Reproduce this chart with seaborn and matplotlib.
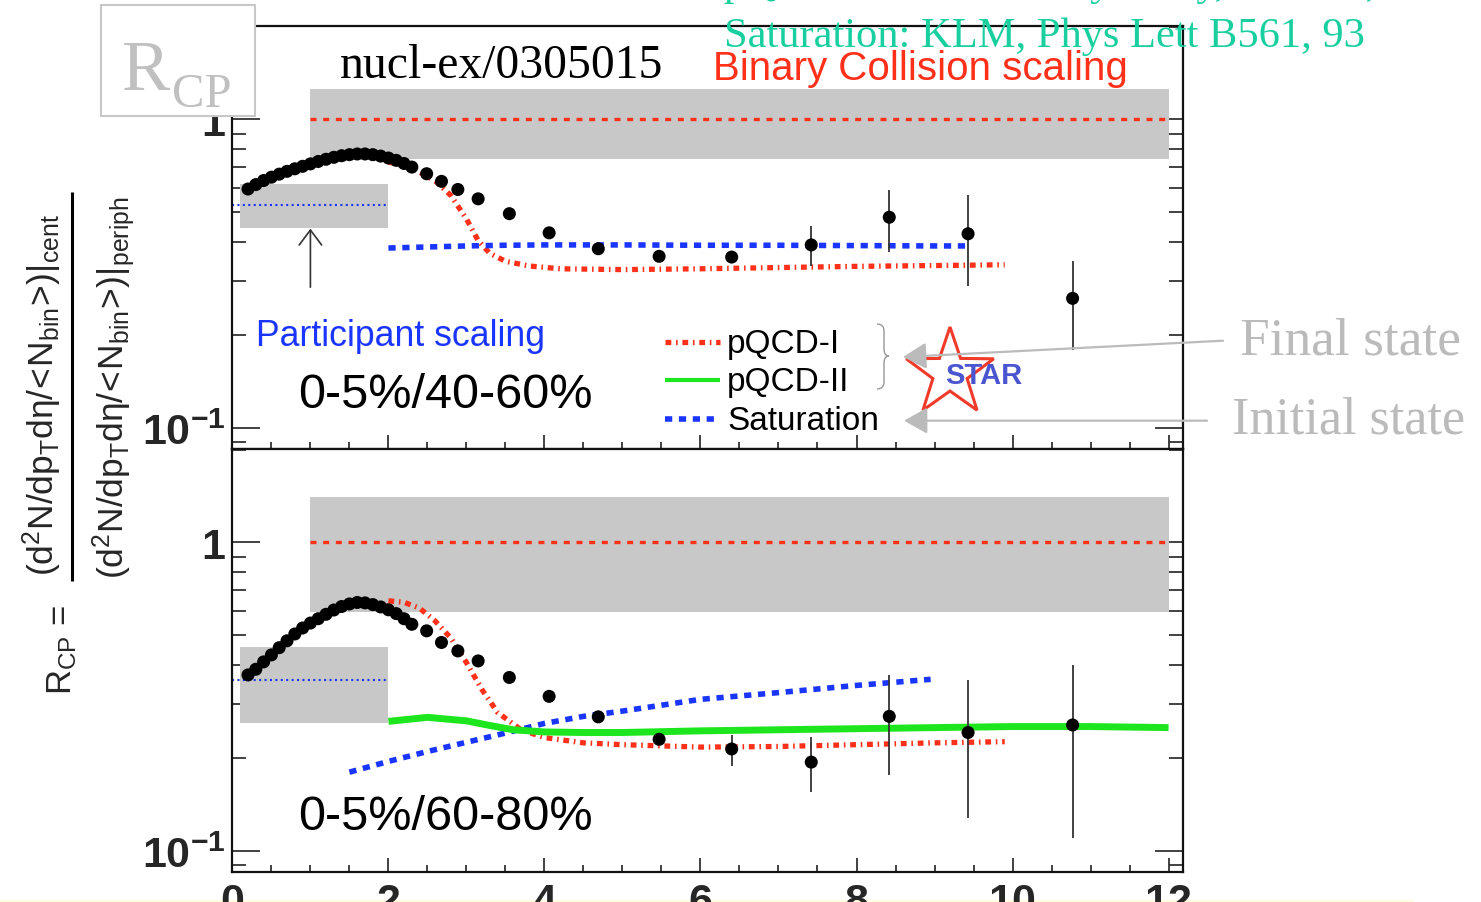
import numpy as np
import matplotlib
matplotlib.use("Agg")
import matplotlib.pyplot as plt
import seaborn as sns
from matplotlib.ticker import FixedLocator, FixedFormatter, LogLocator, NullFormatter, MultipleLocator
from matplotlib.patches import Rectangle, FancyArrowPatch, Polygon, PathPatch, ArrowStyle
from matplotlib.path import Path
from matplotlib.lines import Line2D

# ---------------- data ----------------
# charged hadron pT bins (GeV/c)
pt = [0.2, 0.3, 0.4, 0.5, 0.6, 0.7, 0.8, 0.9, 1.0, 1.1, 1.2, 1.3, 1.4, 1.5,
      1.6, 1.7, 1.8, 1.9, 2.0, 2.1, 2.2, 2.3,
      2.49, 2.68, 2.89, 3.15, 3.55, 4.06, 4.69, 5.47, 6.40, 7.42, 8.42, 9.43, 10.77]

# R_CP, 0-5% / 40-60%
rcp_40_60 = [0.595, 0.615, 0.634, 0.650, 0.665, 0.679, 0.692, 0.705, 0.718, 0.731,
             0.743, 0.754, 0.763, 0.769, 0.773, 0.773, 0.769, 0.761, 0.750, 0.737,
             0.720, 0.701,
             0.667, 0.630, 0.593, 0.553, 0.495, 0.429, 0.381, 0.360, 0.358, 0.392,
             0.482, 0.426, 0.263]
err_lo_40_60 = [0.0] * 22 + [0, 0, 0, 0, 0, 0, 0, 0.010, 0.010, 0.056, 0.110, 0.138, 0.084]
err_hi_40_60 = [0.0] * 22 + [0, 0, 0, 0, 0, 0, 0, 0.010, 0.010, 0.058, 0.109, 0.141, 0.085]

# R_CP, 0-5% / 60-80%
rcp_60_80 = [0.372, 0.388, 0.410, 0.432, 0.456, 0.480, 0.505, 0.528, 0.548, 0.566,
             0.585, 0.604, 0.620, 0.632, 0.639, 0.637, 0.629, 0.618, 0.605, 0.588,
             0.566, 0.543,
             0.517, 0.474, 0.445, 0.413, 0.365, 0.317, 0.272, 0.230, 0.214, 0.194,
             0.273, 0.242, 0.256]
err_lo_60_80 = [0.0] * 22 + [0, 0, 0, 0, 0, 0, 0, 0.010, 0.026, 0.039, 0.097, 0.114, 0.146]
err_hi_60_80 = [0.0] * 22 + [0, 0, 0, 0, 0, 0, 0, 0.010, 0.024, 0.040, 0.098, 0.116, 0.145]

# pQCD-I calculations
pqcd1_x_40_60 = [2.0, 2.2, 2.4, 2.6, 2.8, 3.0, 3.15, 3.3, 3.5, 3.8, 4.2, 5.0, 6.0, 7.0, 8.0, 9.0, 9.9]
pqcd1_y_40_60 = [0.727, 0.712, 0.675, 0.632, 0.567, 0.476, 0.405, 0.368, 0.347, 0.335,
                 0.328, 0.326, 0.328, 0.331, 0.334, 0.336, 0.338]
pqcd1_x_60_80 = [2.0, 2.2, 2.4, 2.6, 2.8, 3.0, 3.2, 3.4, 3.7, 4.0, 4.5, 5.0, 6.0, 7.0, 8.0, 9.0, 9.9]
pqcd1_y_60_80 = [0.647, 0.640, 0.612, 0.556, 0.490, 0.408, 0.333, 0.281, 0.247, 0.233,
                 0.224, 0.221, 0.217, 0.218, 0.221, 0.224, 0.226]

# pQCD-II calculation (60-80% only)
pqcd2_x_60_80 = [2.0, 2.5, 3.0, 3.3, 3.6, 4.0, 4.5, 5.0, 6.0, 7.0, 8.0, 9.0, 10.0, 11.0, 12.0]
pqcd2_y_60_80 = [0.263, 0.271, 0.264, 0.255, 0.247, 0.243, 0.242, 0.242, 0.245, 0.247,
                 0.249, 0.251, 0.253, 0.253, 0.251]

# Saturation model
sat_x_40_60 = [2.0, 2.5, 3.0, 3.5, 4.0, 5.0, 6.0, 7.0, 8.0, 9.0, 9.45]
sat_y_40_60 = [0.383, 0.386, 0.389, 0.391, 0.392, 0.392, 0.391, 0.391, 0.390, 0.389, 0.389]
sat_x_60_80 = [1.5, 2.0, 2.5, 3.0, 3.5, 4.0, 4.5, 5.0, 6.0, 7.0, 8.0, 8.95]
sat_y_60_80 = [0.180, 0.195, 0.210, 0.225, 0.241, 0.259, 0.273, 0.284, 0.310, 0.326, 0.344, 0.360]

# scaling expectations and their uncertainty bands
binary_level = 1.0
binary_band_40_60 = (0.746, 1.258)
binary_band_60_80 = (0.593, 1.406)
binary_range = (1.0, 12.0)
npart_level_40_60 = 0.530
npart_level_60_80 = 0.358
npart_band_40_60 = (0.444, 0.618)
npart_band_60_80 = (0.259, 0.4585)
npart_range = (0.1, 2.0)
npart_line_range = (0.0, 2.0)
arrow_x = 1.0
arrow_y = (0.280, 0.452)

x_ticks = [0, 2, 4, 6, 8, 10, 12]
x_tick_labels = ["0", "2", "4", "6", "8", "10", "12"]
y_ticks = [0.1, 1.0]
y_tick_labels = [r"$\mathbf{10^{-1}}$", r"$\mathbf{1}$"]
legend_labels = ["pQCD-I", "pQCD-II", "Saturation"]
panel_labels = ["0-5%/40-60%", "0-5%/60-80%"]

# ---------------- style ----------------
RED = "#FF3019"
BLUE = "#1A35FF"
GREEN = "#1EE61E"
BAND = "#C8C8C8"
TEAL = "#19CFA0"
LIGHT = "#BBBBBB"

pqcd1_style = dict(color=RED, lw=3.8, linestyle=(0, (1.1, 0.9, 0.3, 0.9)))
pqcd2_style = dict(color=GREEN, lw=5.0, linestyle="-")
sat_style = dict(color=BLUE, lw=4.0, linestyle=(0, (1.3, 1.2)))
binary_style = dict(color=RED, lw=2.4, linestyle=(0, (1.8, 2.0)))
npart_style = dict(color=BLUE, lw=1.5, linestyle=(0, (1.0, 1.6)))

sns.set_theme(style="ticks")
plt.rcParams["font.family"] = ["Liberation Sans", "DejaVu Sans"]
plt.rcParams["mathtext.fontset"] = "custom"
plt.rcParams["mathtext.rm"] = "Liberation Sans"
plt.rcParams["mathtext.it"] = "Liberation Sans:italic"
plt.rcParams["mathtext.bf"] = "Liberation Sans:bold"
plt.rcParams["mathtext.sf"] = "Liberation Sans"
plt.rcParams["lines.dash_capstyle"] = "butt"
plt.rcParams["lines.solid_capstyle"] = "butt"

W, H = 1481, 903
fig = plt.figure(figsize=(W / 100, H / 100), dpi=100)
fig.patch.set_facecolor("white")


def fx(px):
    return px / W


def fy(py):
    return 1 - py / H


left, right = fx(232.4), fx(1182.6)
ax_top = fig.add_axes([left, fy(450), right - left, fy(27) - fy(450)])
ax_bot = fig.add_axes([left, fy(873), right - left, fy(450) - fy(873)], sharex=ax_top)

panels = [
    (ax_top, rcp_40_60, err_lo_40_60, err_hi_40_60, binary_band_40_60, npart_band_40_60,
     npart_level_40_60, pqcd1_x_40_60, pqcd1_y_40_60, sat_x_40_60, sat_y_40_60),
    (ax_bot, rcp_60_80, err_lo_60_80, err_hi_60_80, binary_band_60_80, npart_band_60_80,
     npart_level_60_80, pqcd1_x_60_80, pqcd1_y_60_80, sat_x_60_80, sat_y_60_80),
]

for (ax, rcp, elo, ehi, bband, nband, nlevel, p1x, p1y, sx, sy) in panels:
    ax.set_yscale("log")
    ax.set_xlim(0, 12.18)
    ax.set_ylim(0.0854, 2.01)

    # scaling bands
    ax.fill_between(binary_range, [bband[0]] * 2, [bband[1]] * 2, color=BAND, lw=0, zorder=1)
    ax.fill_between(npart_range, [nband[0]] * 2, [nband[1]] * 2, color=BAND, lw=0, zorder=1)
    ax.plot(binary_range, [binary_level] * 2, zorder=2, **binary_style)
    ax.plot(npart_line_range, [nlevel] * 2, zorder=2, **npart_style)

    # model curves
    sns.lineplot(x=p1x, y=p1y, ax=ax, sort=False, estimator=None, zorder=3, **pqcd1_style)
    sns.lineplot(x=sx, y=sy, ax=ax, sort=False, estimator=None, zorder=3, **sat_style)

    # measured points
    ax.errorbar(pt, rcp, yerr=[elo, ehi], fmt="none", ecolor="#333333",
                elinewidth=1.3, capsize=0, zorder=4)
    sns.scatterplot(x=pt, y=rcp, ax=ax, color="black", s=88, edgecolor="none",
                    linewidth=0, zorder=5, legend=False)

    # axes cosmetics
    ax.yaxis.set_major_locator(FixedLocator(y_ticks))
    ax.yaxis.set_major_formatter(FixedFormatter(y_tick_labels))
    ax.yaxis.set_minor_locator(LogLocator(base=10, subs=np.arange(2, 10) * 1.0, numticks=20))
    ax.yaxis.set_minor_formatter(NullFormatter())
    ax.xaxis.set_major_locator(MultipleLocator(2))
    ax.xaxis.set_minor_locator(MultipleLocator(0.5))
    ax.tick_params(axis="y", which="major", direction="in", left=True, right=True,
                   length=20, width=1.3, color="#333333", labelsize=31, pad=5)
    ax.tick_params(axis="y", which="minor", direction="in", left=True, right=True,
                   length=10, width=1.3, color="#333333")
    ax.tick_params(axis="x", which="major", direction="in", bottom=True, top=False,
                   length=10, width=1.3, color="#333333", labelsize=31, pad=7)
    ax.tick_params(axis="x", which="minor", direction="in", bottom=True, top=False,
                   length=5, width=1.3, color="#333333")
    for sp in ax.spines.values():
        sp.set_linewidth(1.6)
        sp.set_color("#111111")
    ax.set_xlabel("")
    ax.set_ylabel("")

# pQCD-II only for the most peripheral reference
sns.lineplot(x=pqcd2_x_60_80, y=pqcd2_y_60_80, ax=ax_bot, sort=False, estimator=None,
             zorder=3, **pqcd2_style)

ax_top.tick_params(labelbottom=False)
ax_bot.set_xticks(x_ticks, labels=x_tick_labels, fontweight="bold", fontsize=31)

# arrow pointing at the participant-scaling box
ax_top.annotate("", xy=(arrow_x, arrow_y[1]), xytext=(arrow_x, arrow_y[0]),
                arrowprops=dict(arrowstyle=ArrowStyle("->", head_length=0.6, head_width=0.45),
                                mutation_scale=18, lw=1.2, color="#333333"), zorder=6)

# ---------------- legend ----------------
legend_styles = [dict(pqcd1_style), dict(pqcd2_style, lw=3.0), dict(sat_style)]
for lab, sty, yb in zip(legend_labels, legend_styles, [353, 391, 430]):
    fig.add_artist(Line2D([fx(665), fx(720)], [fy(yb - 10)] * 2, transform=fig.transFigure, **sty))
    fig.text(fx(727), fy(yb), lab, fontsize=24, va="baseline", ha="left", color="black")

# brace grouping the two pQCD curves
bx0, bx1, bx2 = 877, 884, 889
by0, bym, by1 = 325, 357, 390
brace_verts = [(bx0, by0), (bx1, by0), (bx1, by0 + 7), (bx1, bym - 7),
               (bx1, bym), (bx2, bym), (bx2, bym), (bx1, bym), (bx1, bym + 7),
               (bx1, by1 - 7), (bx1, by1 - 7), (bx1, by1), (bx0, by1)]
brace_codes = [Path.MOVETO, Path.CURVE3, Path.CURVE3, Path.LINETO,
               Path.CURVE3, Path.CURVE3, Path.LINETO, Path.CURVE3, Path.CURVE3,
               Path.LINETO, Path.LINETO, Path.CURVE3, Path.CURVE3]
brace = Path([(fx(a), fy(b)) for a, b in brace_verts], brace_codes)
fig.add_artist(PathPatch(brace, transform=fig.transFigure, fill=False,
                         edgecolor="#999999", lw=1.0))

# STAR logo
cx, cy, r_out, r_in = 950, 374, 46, 18
star = []
for k in range(10):
    ang = np.pi / 2 + k * np.pi / 5
    rr = r_out if k % 2 == 0 else r_in
    star.append((fx(cx + rr * np.cos(ang)), fy(cy - rr * np.sin(ang))))
fig.add_artist(Polygon(star, closed=True, transform=fig.transFigure, fill=False,
                       edgecolor="#F03A2A", lw=2.2, zorder=3))
fig.text(fx(984), fy(376), "STAR", fontsize=21, fontweight="bold", color="#4A55D0",
         ha="center", va="center", zorder=4)

# final / initial state annotations
head = ArrowStyle("-|>", head_length=0.8, head_width=0.45)
for (x0, y0), (x1, y1) in [((1223, 341.7), (903, 358)), ((1207, 421.7), (904, 421.7))]:
    fig.add_artist(FancyArrowPatch((fx(x0), fy(y0)), (fx(x1), fy(y1)),
                                   transform=fig.transFigure, arrowstyle=head,
                                   mutation_scale=18, color=LIGHT, lw=1.6,
                                   shrinkA=0, shrinkB=0, zorder=5))
fig.text(fx(1240), fy(355), "Final state", family="Liberation Serif", fontsize=38.4,
         color=LIGHT, va="baseline")
fig.text(fx(1232), fy(434), "Initial state", family="Liberation Serif", fontsize=37.5,
         color=LIGHT, va="baseline")

# ---------------- text ----------------
fig.text(fx(340), fy(78), "nucl-ex/0305015", family="Liberation Serif", fontsize=34.3,
         color="black", va="baseline")
fig.text(fx(713), fy(80), "Binary Collision scaling", fontsize=29, color=RED, va="baseline")
fig.text(fx(724), fy(47), "Saturation: KLM, Phys Lett B561, 93", family="Liberation Serif",
         fontsize=30.6, color=TEAL, va="baseline")
fig.text(fx(724), fy(-5), "pQCD-I: Vitev and Gyulassy, PRL 89, 252301",
         family="Liberation Serif", fontsize=30.6, color=TEAL, va="baseline")
fig.text(fx(256), fy(346), "Participant scaling", fontsize=25.7, color=BLUE, va="baseline")
fig.text(fx(298), fy(408), panel_labels[0], fontsize=35, color="black", va="baseline")
fig.text(fx(298), fy(830), panel_labels[1], fontsize=35, color="black", va="baseline")

# R_CP box
fig.add_artist(Rectangle((fx(101), fy(117)), fx(255) - fx(101), fy(6) - fy(117),
                         transform=fig.transFigure, facecolor="white",
                         edgecolor="#C8C8C8", lw=1.5, zorder=6))
fig.text(fx(122), fy(90), "R", family="Liberation Serif", fontsize=52, color="#C0C0C0",
         va="baseline", zorder=7)
fig.text(fx(172), fy(107), "CP", family="Liberation Serif", fontsize=35, color="#C0C0C0",
         va="baseline", zorder=7)

# y axis title as a fraction
fig.text(fx(62), fy(650), r"$\mathregular{R_{CP}}$ =", rotation=90, fontsize=25,
         ha="center", va="center")
fig.text(fx(42), fy(395), r"$\mathregular{(d^2N/dp_Td\eta/\!<\!N_{bin}\!>\!)|_{cent}}$",
         rotation=90, fontsize=25.5, ha="center", va="center")
fig.text(fx(114), fy(388), r"$\mathregular{(d^2N/dp_Td\eta/\!<\!N_{bin}\!>\!)|_{periph}}$",
         rotation=90, fontsize=25.5, ha="center", va="center")
fig.add_artist(Line2D([fx(72), fx(72)], [fy(193), fy(582)], transform=fig.transFigure,
                      color="black", lw=2.2))

# thin strip along the lower edge
fig.add_artist(Rectangle((0, 0), fx(1414), 2 / H, transform=fig.transFigure,
                         facecolor="#FFFDE0", edgecolor="none", zorder=0))

fig.savefig("out.png", dpi=100)
